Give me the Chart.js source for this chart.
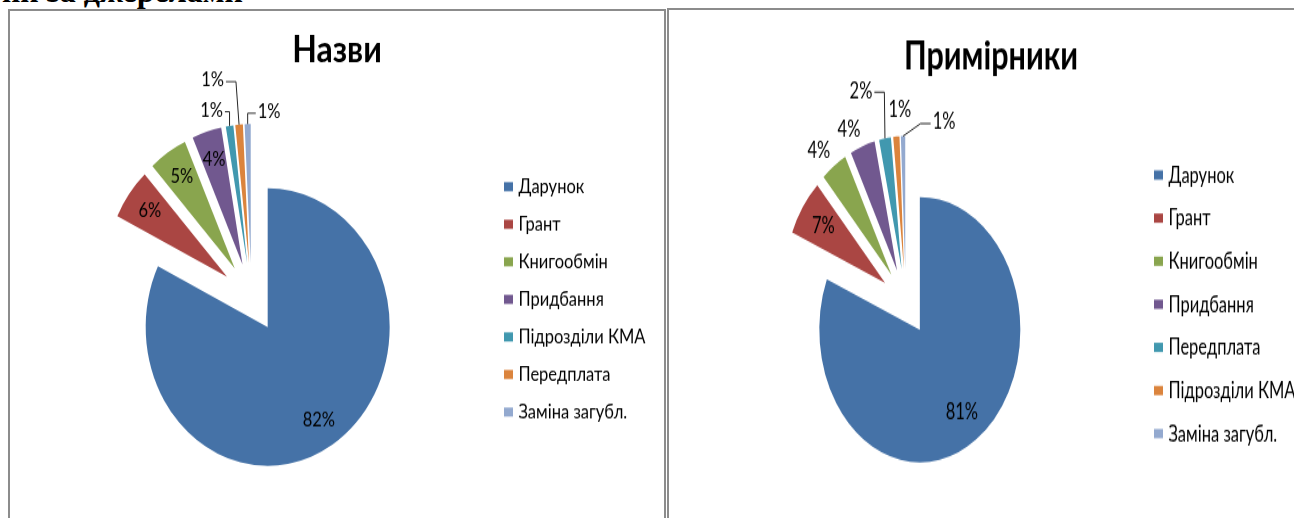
<!DOCTYPE html>
<html><head><meta charset="utf-8">
<script src="https://cdn.jsdelivr.net/npm/chart.js@4.4.1/dist/chart.umd.min.js"></script>
<style>
html,body{margin:0;padding:0;background:#fff;}
body{width:1294px;height:518px;position:relative;overflow:hidden;}
#cap{position:absolute;left:-300px;width:543px;top:-25px;text-align:right;font:bold 32px "Liberation Serif",serif;line-height:32px;white-space:nowrap;color:#000;}
.frame{position:absolute;border:2px solid #8c8c8c;box-sizing:border-box;}
#f1{left:8px;top:9px;width:658px;height:560px;}
#f2{left:667px;top:8px;width:700px;height:560px;}
.wrap{position:absolute;transform-origin:0 0;}
#w1{left:10px;top:11px;width:654px;height:446px;transform:scaleY(1.138);}
#w2{left:669px;top:10px;width:644px;height:390px;transform:scaleY(1.32);}
canvas{display:block;}
</style></head>
<body>
<div id="cap">ни за джерелами</div>
<div class="frame" id="f1"></div>
<div class="frame" id="f2"></div>
<div class="wrap" id="w1"><canvas id="c1" width="654" height="446" style="width:654px;height:446px"></canvas></div>
<div class="wrap" id="w2"><canvas id="c2" width="644" height="390" style="width:644px;height:390px"></canvas></div>
<script>
// ---- data ----
const titleLeft = 'Назви';
const titleRight = 'Примірники';
const labelsLeft = ['Дарунок', 'Грант', 'Книгообмін', 'Придбання', 'Підрозділи КМА', 'Передплата', 'Заміна загубл.'];
const valuesLeft = [82.2, 6.0, 5.1, 3.9, 1.0, 1.0, 0.8];
const labelsRight = ['Дарунок', 'Грант', 'Книгообмін', 'Придбання', 'Передплата', 'Підрозділи КМА', 'Заміна загубл.'];
const valuesRight = [81.2, 7.0, 4.2, 4.0, 1.9, 1.0, 0.7];
const sliceColors = ['#4572A7', '#AA4643', '#89A54E', '#71588F', '#4198AF', '#DB843D', '#93A9CF'];

// ---- plugin: exploded slices, percent labels, legend, title ----
const excelPie = {
  id: 'excelPie',
  beforeDatasetDraw(chart, args, o) {
    const ca = chart.chartArea;
    const cx = (ca.left + ca.right) / 2, cy = (ca.top + ca.bottom) / 2;
    args.meta.data.forEach(arc => {
      const mid = (arc.startAngle + arc.endAngle) / 2;
      arc.x = cx + Math.cos(mid) * o.explode;
      arc.y = cy + Math.sin(mid) * o.explode;
    });
  },
  afterDraw(chart, args, o) {
    const ctx = chart.ctx;
    const meta = chart.getDatasetMeta(0);
    const data = chart.data.datasets[0].data;
    const colors = chart.data.datasets[0].backgroundColor;
    const total = data.reduce((a, b) => a + b, 0);
    ctx.save();
    // title
    ctx.fillStyle = '#000';
    ctx.font = o.titleFont;
    ctx.textAlign = 'center';
    ctx.textBaseline = 'middle';
    ctx.fillText(o.title, chart.width / 2, o.titleY);
    // percent labels
    ctx.font = o.labelFont;
    meta.data.forEach((arc, i) => {
      const mid = (arc.startAngle + arc.endAngle) / 2;
      const dx = Math.cos(mid), dy = Math.sin(mid);
      const R = arc.outerRadius;
      const txt = Math.round(data[i] / total * 100) + '%';
      const p = o.place[i];
      let tx, ty;
      if (p.mode === 'in') {
        tx = arc.x + dx * R * o.inFrac;
        ty = arc.y + dy * R * o.inFrac;
      } else {
        const ax = arc.x + dx * R, ay = arc.y + dy * R;
        tx = ax + p.dx; ty = ay + p.dy;
        if (p.line) {
          const hw = ctx.measureText(txt).width / 2 + 2;
          const side = ax > tx ? 1 : -1;
          const ex = tx + side * hw;
          const kx = ex + side * Math.min(10, Math.abs(ax - ex));
          ctx.strokeStyle = '#262626';
          ctx.lineWidth = 1;
          ctx.beginPath();
          ctx.moveTo(ex, ty + 1);
          ctx.lineTo(kx, ty + 1);
          ctx.lineTo(ax, ay);
          ctx.stroke();
        }
      }
      ctx.fillStyle = '#000';
      ctx.textAlign = 'center';
      ctx.textBaseline = 'middle';
      ctx.fillText(txt, tx, ty);
    });
    // legend
    ctx.font = o.legendFont;
    ctx.textAlign = 'left';
    ctx.textBaseline = 'middle';
    chart.data.labels.forEach((lab, i) => {
      const y = o.legend.y0 + i * o.legend.step;
      ctx.fillStyle = colors[i];
      ctx.fillRect(o.legend.boxX, y - o.legend.bh / 2, o.legend.bw, o.legend.bh);
      ctx.fillStyle = '#000';
      ctx.fillText(lab, o.legend.textX, y + 0.5);
    });
    ctx.restore();
  }
};

function makePie(id, labels, values, cfg) {
  return new Chart(document.getElementById(id), {
    type: 'pie',
    data: { labels: labels, datasets: [{ data: values, backgroundColor: sliceColors, borderWidth: 0, radius: cfg.radius }] },
    options: {
      responsive: false, animation: false, events: [],
      radius: cfg.radius,
      layout: { padding: cfg.padding },
      plugins: { legend: { display: false }, tooltip: { enabled: false }, title: { display: false }, excelPie: cfg.pie }
    },
    plugins: [excelPie]
  });
}

makePie('c1', labelsLeft, valuesLeft, {
  radius: 122,
  padding: { left: 0, right: 171, top: 57.6, bottom: 0 },
  pie: {
    explode: 30.5, inFrac: 0.79,
    title: titleLeft, titleY: 34.3, titleFont: 'bold 32px Lato',
    labelFont: '16.5px Lato', legendFont: '16.5px Lato',
    legend: { boxX: 494, textX: 508.5, y0: 154.4, step: 33, bw: 9, bh: 8 },
    place: [
      { mode: 'in' }, { mode: 'in' }, { mode: 'in' }, { mode: 'in' },
      { mode: 'out', dx: -18, dy: -13.4, line: true },
      { mode: 'out', dx: -26.5, dy: -38.7, line: true },
      { mode: 'out', dx: 21.5, dy: -10.5, line: true }
    ]
  }
});

makePie('c2', labelsRight, valuesRight, {
  radius: 100.5,
  padding: { left: 0, right: 170.4, top: 52.4, bottom: 0 },
  pie: {
    explode: 25.2, inFrac: 0.75,
    title: titleRight, titleY: 35.6, titleFont: 'bold 30.5px Lato',
    labelFont: '16.5px Lato', legendFont: '16.5px Lato',
    legend: { boxX: 485, textX: 499.5, y0: 125, step: 32.65, bw: 9, bh: 7 },
    place: [
      { mode: 'in' }, { mode: 'in' },
      { mode: 'out', dx: -15, dy: -11.1, line: false },
      { mode: 'out', dx: -13.5, dy: -12.4, line: false },
      { mode: 'out', dx: -24, dy: -36, line: true },
      { mode: 'out', dx: 3.6, dy: -20.3, line: false },
      { mode: 'out', dx: 41, dy: -10.5, line: true }
    ]
  }
});
</script>
</body></html>
